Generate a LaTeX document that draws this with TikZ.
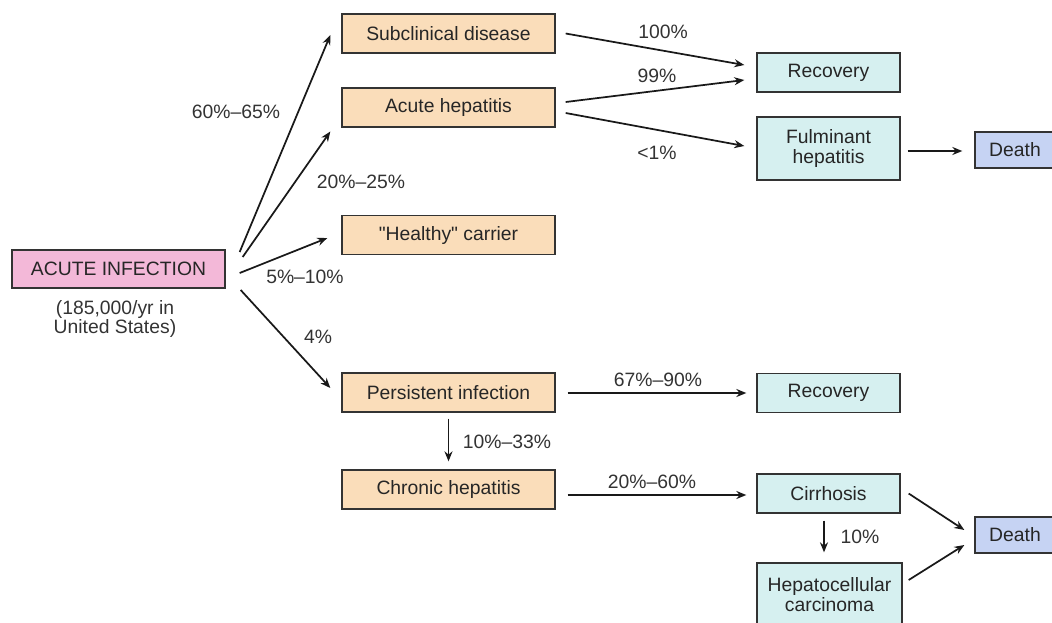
\documentclass[tikz,border=0pt]{standalone}
\usepackage{fontspec}
\setmainfont{Liberation Sans}
\newfontfamily\plainsans{Liberation Sans}
\usetikzlibrary{arrows.meta,calc}

\definecolor{peach}{RGB}{250,221,186}
\definecolor{rosy}{RGB}{243,184,216}
\definecolor{aqua}{RGB}{214,240,240}
\definecolor{lilac}{RGB}{198,211,243}

\tikzset{every picture/.style={line width=0.75pt}}

\begin{document}
\begin{tikzpicture}[x=0.75pt,y=0.75pt,yscale=-1,xscale=1,
  box/.style={draw=black!80, line width=1pt, inner sep=0pt, align=center, text=black!85, font=\fontsize{14.5}{15}\selectfont},
  stage/.style={box, fill=peach, minimum width=159.75pt, minimum height=29.25pt},
  outcome/.style={box, fill=aqua, minimum width=107.25pt, minimum height=29.25pt},
  fate/.style={box, fill=lilac, minimum width=60pt, minimum height=27pt},
  pct/.style={text=black!80, font=\fontsize{14.5}{14.5}\selectfont},
  arr/.style={-{Stealth[length=7.5pt,width=6pt]}, line width=1.3pt, black!90}]
%set diagram to 1052 x 622
\clip (0,0) rectangle (1052,622);

% Boxes
\node [box, fill=rosy, minimum width=159.75pt, minimum height=28.5pt] (ai) at (118.5,269) {ACUTE INFECTION};
\node [pct, align=center] (ainote) at (115,319) {(185,000/yr in\\United States)};

\node [stage] (sub) at (448.5,33.5) {Subclinical disease};
\node [stage] (ah) at (448.5,107.5) {Acute hepatitis};
\node [stage] (hc) at (448.5,235) {{\plainsans"}Healthy{\plainsans"} carrier};
\node [stage] (pi) at (448.5,392.5) {Persistent infection};
\node [stage] (ch) at (448.5,489.5) {Chronic hepatitis};

\node [outcome] (rec) at (828.5,72.5) {Recovery};
\node [outcome, minimum height=47.25pt] (ful) at (828.5,148.5) {Fulminant\\hepatitis};
\node [fate] (dth) at (1015,150) {Death};
\node [outcome] (recb) at (828.5,393) {Recovery};
\node [outcome] (cir) at (828.5,493.5) {Cirrhosis};
\node [outcome, minimum width=108.75pt, minimum height=47.25pt] (hcc) at (829.5,594.5) {Hepatocellular\\carcinoma};
\node [fate] (dthb) at (1015,535) {Death};

% Fan out of the acute infection
\draw [arr] ($(ai.east)+(14,-17)$) -- ($(sub.west)+(-11,1.5)$);
\draw [arr] ($(ai.east)+(17,-12)$) -- ($(ah.west)+(-11,24)$);
\draw [arr] ($(ai.east)+(14,4)$) -- ($(hc.west)+(-14,3)$);
\draw [arr] ($(ai.east)+(15,21)$) -- ($(pi.west)+(-11,-4.5)$);

% Acute course
\draw [arr] ($(sub.east)+(10,0)$) -- ($(rec.west)+(-12,-7.5)$);
\draw [arr] ($(ah.east)+(10,-5.5)$) -- ($(rec.west)+(-12,7.5)$);
\draw [arr] ($(ah.east)+(10,5.5)$) -- ($(ful.west)+(-12,-2.5)$);
\draw [arr] ($(ful.east)+(7,2.5)$) -- ($(dth.west)+(-12,1)$);

% Chronic course
\draw [arr] ($(pi.east)+(12,0.5)$) -- ($(recb.west)+(-10,0)$);
\draw [arr, shorten <=4.5pt, shorten >=6pt] (pi.south) -- (ch.north);
\draw [arr] ($(ch.east)+(12,5.5)$) -- ($(cir.west)+(-10,1.5)$);
\draw [arr, line width=1.9pt] ($(cir.south)+(-4.5,7)$) -- ($(hcc.north)+(-5.5,-10)$);
\draw [arr] ($(cir.east)+(8,0)$) -- ($(dthb.west)+(-10,-5)$);
\draw [arr] ($(hcc.east)+(6,-14.5)$) -- ($(dthb.west)+(-10,10)$);

% Text Node
\node [pct] (p1) at (236,112) {60\%--65\%};
\node [pct] (p2) at (361,182) {20\%--25\%};
\node [pct] (p3) at (305,277) {5\%--10\%};
\node [pct] (p4) at (318,337) {4\%};
\node [pct] (p5) at (663,32) {100\%};
\node [pct] (p6) at (657,76) {99\%};
\node [pct] (p7) at (657,153) {<1\%};
\node [pct] (p8) at (658,380) {67\%--90\%};
\node [pct] (p9) at (507,442) {10\%--33\%};
\node [pct] (p10) at (652,482) {20\%--60\%};
\node [pct] (p11) at (860,537) {10\%};

\end{tikzpicture}
\end{document}
